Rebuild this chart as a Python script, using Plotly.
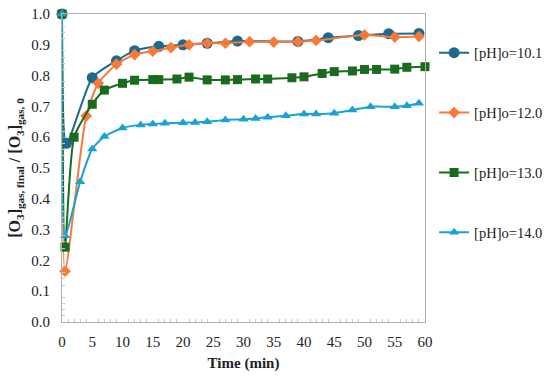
import plotly.graph_objects as go

# pH 10.1
x_101 = [0, 0.75, 5, 9, 12, 16, 20, 24, 29, 39, 44, 49, 54, 59]
y_101 = [1.0, 0.58, 0.793, 0.848, 0.881, 0.895, 0.90, 0.905, 0.912, 0.911, 0.923, 0.930, 0.936, 0.937]

# pH 12.0
x_120 = [0, 0.5, 4, 6, 9, 12, 15, 18, 21, 24, 27, 31, 35, 39, 42, 50, 55, 59]
y_120 = [1.0, 0.165, 0.669, 0.775, 0.837, 0.868, 0.879, 0.891, 0.900, 0.905, 0.905, 0.910, 0.909, 0.910, 0.914, 0.932, 0.925, 0.927]

# pH 13.0
x_130 = [0, 0.5, 2, 5, 7, 10, 12, 15, 16, 19, 21, 24, 27, 29, 32, 34, 38, 40, 43, 45, 48, 50, 52, 55, 57, 60]
y_130 = [1.0, 0.243, 0.60, 0.707, 0.753, 0.775, 0.785, 0.787, 0.787, 0.789, 0.795, 0.786, 0.786, 0.787,
         0.789, 0.789, 0.793, 0.796, 0.807, 0.813, 0.815, 0.820, 0.820, 0.821, 0.827, 0.829]

# pH 14.0
x_140 = [0, 0.5, 3, 5, 7, 10, 13, 15, 17, 20, 22, 24, 27, 30, 32, 34, 37, 40, 42, 45, 48, 51, 55, 57, 59]
y_140 = [1.0, 0.28, 0.455, 0.562, 0.602, 0.630, 0.640, 0.643, 0.645, 0.647, 0.648, 0.650, 0.656, 0.658,
         0.661, 0.665, 0.670, 0.675, 0.675, 0.678, 0.688, 0.699, 0.699, 0.702, 0.710]

names = ["[pH]o=10.1", "[pH]o=12.0", "[pH]o=13.0", "[pH]o=14.0"]
colors = ["#1C6A8C", "#F8793A", "#1A6B1E", "#1AA2D4"]
symbols = ["circle", "diamond", "square", "triangle-up"]
sizes = [11, 9, 9, 9]
xs = [x_101, x_120, x_130, x_140]
ys = [y_101, y_120, y_130, y_140]

serif = "'Times New Roman', 'Liberation Serif', serif"

fig = go.Figure()
for i in range(4):
    fig.add_trace(go.Scatter(
        x=xs[i], y=ys[i], name=names[i], mode="lines+markers",
        line=dict(color=colors[i], width=2, shape="spline", smoothing=0.6),
        marker=dict(symbol=symbols[i], size=sizes[i], color=colors[i]),
        legendgroup=str(i), cliponaxis=False,
    ))

fig.update_layout(
    width=550, height=376,
    margin=dict(l=62, r=125, t=14, b=54, autoexpand=False),
    paper_bgcolor="white", plot_bgcolor="white",
    font=dict(family=serif, size=15, color="#222222"),
    showlegend=True,
    legend=dict(x=1.025, y=0.926, xanchor="left", yanchor="top",
                font=dict(family=serif, size=14.5, color="#222222"),
                tracegroupgap=38, bgcolor="rgba(0,0,0,0)"),
)
fig.update_xaxes(
    range=[0, 60], dtick=5, tick0=0, showgrid=False, zeroline=False, automargin=False,
    showline=True, linecolor="#B0B0B0", linewidth=1, mirror=True,
    ticks="", tickfont=dict(family=serif, size=15), ticklabelstandoff=6,
    minor=dict(dtick=1, ticks="inside", ticklen=3, tickcolor="#C8C8C8"),
    title=dict(text="<b>Time (min)</b>", font=dict(family=serif, size=15), standoff=8),
)
fig.update_yaxes(
    range=[0, 1.0], dtick=0.1, tick0=0, tickformat=".1f", showgrid=False, zeroline=False, automargin=False,
    showline=True, linecolor="#B0B0B0", linewidth=1, mirror=True,
    ticks="", tickfont=dict(family=serif, size=15), ticklabelstandoff=8,
    minor=dict(dtick=0.02, ticks="inside", ticklen=3, tickcolor="#C8C8C8"),
    title=dict(text="<b>[O<sub>3</sub>]<sub>gas, final</sub> / [O<sub>3</sub>]<sub>gas, 0</sub></b>",
               font=dict(family=serif, size=16), standoff=6),
)

fig.write_html("out.html", config={"displayModeBar": False},
               post_script="document.body.style.margin='0';document.body.style.overflow='hidden';")
